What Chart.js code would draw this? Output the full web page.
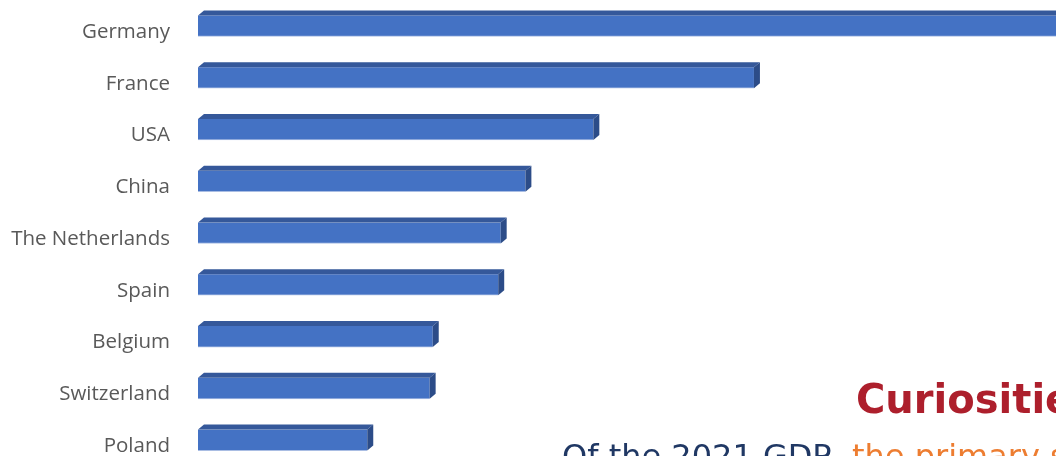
<!DOCTYPE html>
<html>
<head>
<meta charset="utf-8">
<script src="https://cdn.jsdelivr.net/npm/chart.js@4.4.0/dist/chart.umd.min.js"></script>
<style>
    html, body { margin: 0; padding: 0; width: 1056px; height: 456px; overflow: hidden; background: #fff; }
    #wrap { position: absolute; left: 0; top: 0; width: 1056px; height: 466px; }
    .title { position: absolute; left: 856px; top: 379px; font-family: "DejaVu Sans", Verdana, sans-serif; font-weight: bold; font-size: 40px; line-height: 40px; color: #AD1F2C; white-space: nowrap; }
    .sub { position: absolute; left: 562px; top: 440px; font-family: "DejaVu Sans", Verdana, sans-serif; font-size: 32px; line-height: 32px; color: #203864; white-space: nowrap; }
    .sub span { color: #ED7D31; }
</style>
</head>
<body>
<div id="wrap"><canvas id="barChart"></canvas></div>
<div class="title">Curiosities</div>
<div class="sub">Of the 2021 GDP, <span>the primary sector</span></div>

<script>
// Données (Germany dépasse le cadre)
const countries = ['Germany', 'France', 'USA', 'China', 'The Netherlands', 'Spain', 'Belgium', 'Switzerland', 'Poland'];
const values = [150, 90, 64, 53, 49, 48.6, 38, 37.5, 27.4];
const axisMax = 138.9;

// Faces "3D" : dessus et côté de chaque barre
const bar3d = {
    id: 'bar3d',
    afterDatasetsDraw(chart) {
        const ctx = chart.ctx;
        const dx = 6, dy = 5;
        chart.getDatasetMeta(0).data.forEach((bar) => {
            const x0 = bar.base;
            const x1 = bar.x;
            const top = bar.y - bar.height / 2;
            const bottom = bar.y + bar.height / 2;
            ctx.save();
            // dessus
            ctx.fillStyle = '#35589A';
            ctx.beginPath();
            ctx.moveTo(x0, top);
            ctx.lineTo(x0 + dx, top - dy);
            ctx.lineTo(x1 + dx, top - dy);
            ctx.lineTo(x1, top);
            ctx.closePath();
            ctx.fill();
            // côté
            ctx.fillStyle = '#2C4C88';
            ctx.beginPath();
            ctx.moveTo(x1, top);
            ctx.lineTo(x1 + dx, top - dy);
            ctx.lineTo(x1 + dx, bottom - dy);
            ctx.lineTo(x1, bottom);
            ctx.closePath();
            ctx.fill();
            ctx.restore();
        });
    }
};

const ctx = document.getElementById('barChart').getContext('2d');
new Chart(ctx, {
    type: 'bar',
    data: {
        labels: countries,
        datasets: [{
            data: values,
            backgroundColor: '#4472C4',
            borderColor: '#A9BDE3',
            borderWidth: { bottom: 1, top: 0, left: 0, right: 0 },
            borderSkipped: false,
            barThickness: 21
        }]
    },
    options: {
        indexAxis: 'y',
        responsive: true,
        maintainAspectRatio: false,
        animation: false,
        layout: { padding: 0 },
        plugins: {
            legend: { display: false },
            tooltip: { enabled: false }
        },
        scales: {
            x: {
                display: false,
                min: 0,
                max: axisMax
            },
            y: {
                grid: { display: false, drawTicks: false },
                border: { display: false },
                ticks: {
                    color: '#595959',
                    font: { family: '"Open Sans", sans-serif', size: 20.5 },
                    padding: 28,
                    labelOffset: 6
                },
                afterFit: (axis) => {
                    axis.width = 198;
                    // pas de marge verticale due au padding des ticks
                    axis.paddingTop = 0;
                    axis.paddingBottom = 0;
                }
            }
        }
    },
    plugins: [bar3d]
});
</script>
</body>
</html>
